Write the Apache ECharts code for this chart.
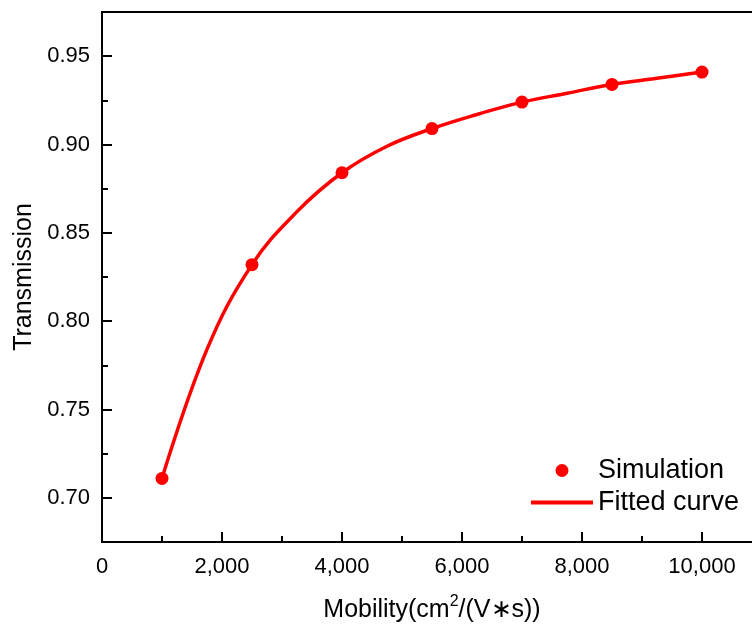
<!DOCTYPE html>
<html>
<head>
<meta charset="utf-8">
<script src="https://cdn.jsdelivr.net/npm/echarts@6/dist/echarts.min.js"></script>
<style>
  html, body { margin: 0; padding: 0; background: #fff; }
  #chart { width: 752px; height: 624px; }
</style>
</head>
<body>
<div id="chart"></div>
<script>
// Simulated transmission versus carrier mobility
const mobility = [1000, 2500, 4000, 5500, 7000, 8500, 10000];
const transmission = [0.711, 0.832, 0.884, 0.909, 0.924, 0.934, 0.941];

// Fitted curve, sampled every 750 cm²/(V·s)
const fitMobility = [1000, 1750, 2500, 3250, 4000, 4750, 5500, 6250, 7000, 7750, 8500, 9250, 10000];
const fitTransmission = [0.711, 0.784, 0.832, 0.862, 0.884, 0.899, 0.909, 0.917, 0.924, 0.929, 0.934, 0.9375, 0.941];

// Axis ticks
const yMajorTicks = [0.70, 0.75, 0.80, 0.85, 0.90, 0.95];
const yMinorTicks = [0.725, 0.775, 0.825, 0.875, 0.925];

const font = 'Liberation Sans, Arial, sans-serif';
const red = '#ff0000';

const chart = echarts.init(document.getElementById('chart'), null, { renderer: 'canvas' });

chart.setOption({
  animation: false,
  backgroundColor: '#ffffff',
  grid: {
    show: true, borderColor: '#000', borderWidth: 2,
    containLabel: false, outerBoundsMode: 'none',
    left: 102, top: 12, width: 660, height: 530
  },
  legend: {
    orient: 'vertical',
    left: 524,
    top: 452,
    itemWidth: 62,
    itemHeight: 13,
    itemGap: 5,
    textStyle: { fontFamily: font, fontSize: 27, color: '#000', lineHeight: 27 },
    data: [
      { name: 'Simulation', icon: 'circle' },
      { name: 'Fitted curve', itemStyle: { opacity: 0 }, lineStyle: { width: 4, color: red } }
    ]
  },
  xAxis: {
    type: 'value',
    min: 0,
    max: 11000,
    interval: 2000,
    name: 'Mobility(cm{sup|2}/(V∗s))',
    nameLocation: 'middle',
    nameGap: 52,
    nameTextStyle: {
      fontFamily: font, fontSize: 25, color: '#000',
      rich: { sup: { fontFamily: font, fontSize: 16, color: '#000', verticalAlign: 'top', padding: [0, 0, 16, 0] } }
    },
    axisLine: { lineStyle: { color: '#000', width: 2 } },
    axisTick: { inside: true, length: 10, lineStyle: { color: '#000', width: 2 } },
    minorTick: { show: true, splitNumber: 2, length: 6, lineStyle: { color: '#000', width: 2 } },
    splitLine: { show: false },
    axisLabel: {
      fontFamily: font, fontSize: 22, color: '#000', margin: 14,
      formatter: v => v.toLocaleString('en-US')
    }
  },
  yAxis: [
    {
      type: 'value',
      min: 0.675,
      max: 0.975,
      name: 'Transmission',
      nameLocation: 'middle',
      nameGap: 64,
      nameRotate: 90,
      nameTextStyle: { fontFamily: font, fontSize: 25, color: '#000' },
      axisLine: { lineStyle: { color: '#000', width: 2 } },
      axisTick: { inside: true, length: 10, customValues: yMajorTicks, lineStyle: { color: '#000', width: 2 } },
      splitLine: { show: false },
      axisLabel: {
        fontFamily: font, fontSize: 22, color: '#000', margin: 12,
        customValues: yMajorTicks,
        formatter: v => v.toFixed(2)
      }
    },
    {
      type: 'value',
      min: 0.675,
      max: 0.975,
      position: 'left',
      axisLine: { show: false },
      axisTick: { inside: true, length: 6, customValues: yMinorTicks, lineStyle: { color: '#000', width: 2 } },
      axisLabel: { show: false },
      splitLine: { show: false }
    }
  ],
  series: [
    {
      name: 'Fitted curve',
      type: 'line',
      data: fitMobility.map((x, i) => [x, fitTransmission[i]]),
      smooth: 0.4,
      showSymbol: false,
      symbol: 'none',
      lineStyle: { color: red, width: 3.5 },
      itemStyle: { color: red },
      z: 2
    },
    {
      name: 'Simulation',
      type: 'scatter',
      data: mobility.map((x, i) => [x, transmission[i]]),
      symbol: 'circle',
      symbolSize: 13,
      itemStyle: { color: red, opacity: 1 },
      z: 3
    }
  ]
});
</script>
</body>
</html>
